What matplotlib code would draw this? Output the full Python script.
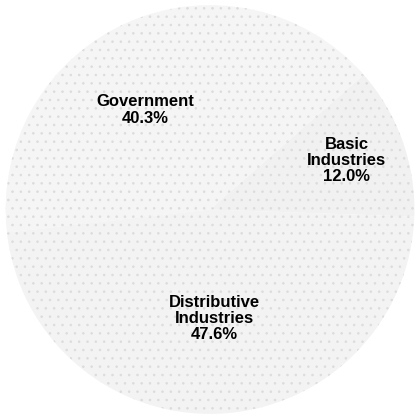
import matplotlib.pyplot as plt
import numpy as np

sectors = ["Basic\nIndustries", "Government", "Distributive\nIndustries"]
shares = [12.0, 40.3, 47.6]
fills = ["#f1f1f1", "#f5f5f5", "#f3f3f3"]

plt.rcParams['font.family'] = ['Liberation Sans', 'DejaVu Sans']
plt.rcParams['hatch.color'] = '#dcdcdc'
plt.rcParams['hatch.linewidth'] = 0.6

fig = plt.figure(figsize=(4.2, 4.19), dpi=100)
ax = fig.add_axes((0, 0, 1, 1))
wedges, _ = ax.pie(shares, colors=fills, startangle=-2, counterclock=True,
                   wedgeprops=dict(linewidth=0, hatch='..'))

# label placement: distance from centre and angle nudge (deg), per wedge
dist = [0.71, 0.58, 0.535]
nudge = [0, 9, 0]
for w, name, val, d, n in zip(wedges, sectors, shares, dist, nudge):
    ang = np.deg2rad((w.theta1 + w.theta2) / 2 + n)
    ax.text(d * np.cos(ang), d * np.sin(ang), "%s\n%.1f%%" % (name, val),
            ha='center', va='center', fontsize=12, fontweight='bold',
            linespacing=1.1)

ax.set_xlim(-1.025, 1.025)
ax.set_ylim(-1.025, 1.025)
ax.set_aspect('equal')
fig.savefig("out.png", dpi=100)
